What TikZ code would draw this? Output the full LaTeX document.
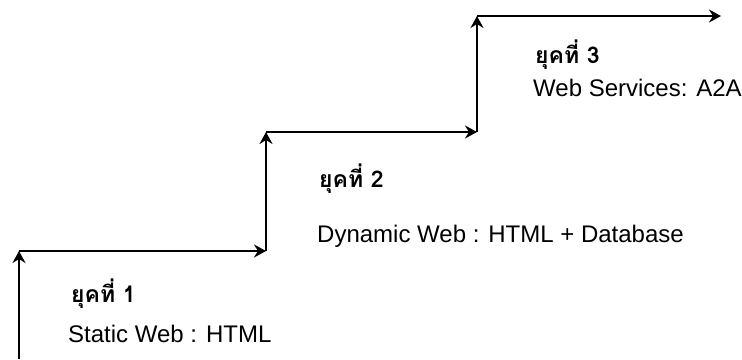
\documentclass[tikz,border=0pt]{standalone}
\usepackage{fontspec}
\setmainfont{Liberation Sans}
\newfontfamily\thaifont[Script=Thai]{Loma}
\usetikzlibrary{arrows.meta}
\tikzset{
  stair/.style={line width=2.8pt, -{Stealth[length=12pt,width=13pt,inset=4pt]}},
  era/.style={anchor=base west, inner sep=0pt, font=\thaifont\bfseries\fontsize{23}{26}\selectfont},
  desc/.style={anchor=base west, inner sep=0pt, font=\fontsize{24}{26}\selectfont},
}
\begin{document}
\begin{tikzpicture}[x=1pt,y=-1pt]
\useasboundingbox (0,0) rectangle (742,359);
\coordinate (c1) at (19,359);
\coordinate (c2) at (19,251);
\coordinate (c3) at (266,251);
\coordinate (c4) at (266,132);
\coordinate (c5) at (477,132);
\coordinate (c6) at (477,16);
\coordinate (c7) at (721,16);
\draw[stair] (c1) -- (c2);
\draw[stair] (c2) -- (c3);
\draw[stair] (c3) -- (c4);
\draw[stair] (c4) -- (c5);
\draw[stair] (c5) -- (c6);
\draw[stair] (c6) -- (c7);
\node[era] (e1) at (71,302) {ยุคที่ 1};
\node[desc] (d1) at (68,342) {Static Web : HTML};
\node[era] (e2) at (319,187) {ยุคที่ 2};
\node[desc] (d2) at (317,242) {Dynamic Web : HTML + Database};
\node[era] (e3) at (535,63) {ยุคที่ 3};
\node[desc] (d3) at (533,96) {Web Services: A2A};
\end{tikzpicture}
\end{document}
